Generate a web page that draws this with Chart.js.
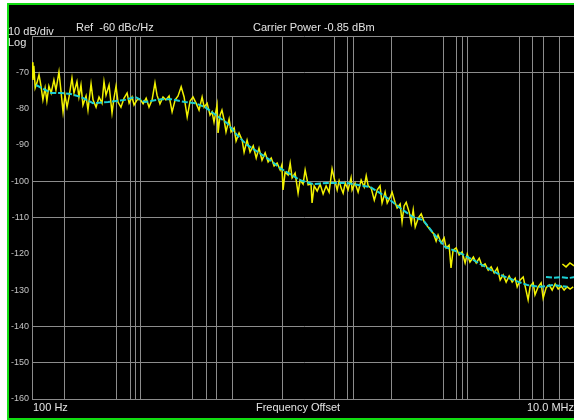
<!DOCTYPE html>
<html>
<head>
<meta charset="utf-8">
<script src="https://cdn.jsdelivr.net/npm/chart.js@4.4.0/dist/chart.umd.min.js"></script>
<style>
html, body { margin: 0; padding: 0; overflow: hidden; background: #fff; }
#wrap { width: 584px; height: 420px; }
</style>
</head>
<body>
<div id="wrap"><canvas id="noise-chart"></canvas></div>
<script>
// frequency offsets (Hz) where the analyser draws vertical grid lines
const gridFreqs = [100, 200, 600, 800, 900, 1000, 3000, 4000, 5000, 7000, 20000, 60000, 80000, 90000,
    200000, 600000, 800000, 900000, 1000000, 3000000, 4000000, 5000000, 7000000];
const yTicks = [-60, -70, -80, -90, -100, -110, -120, -130, -140, -150, -160];
const hiddenRows = [-80, -90, -120, -130];

// smoothed trace (cyan)
const cyanFreq = [109, 150, 185, 228, 282, 364, 500, 716, 885, 1095, 1535, 1897, 2552, 3155, 3900, 4616, 5353,
    6210, 7674, 9480, 11970, 15440, 19070, 22590, 29120, 38370, 51600, 78900, 97500, 128300, 158500, 195900,
    242000, 318600, 393700, 486600, 627600, 862500, 1136000, 1527000, 2010000, 2648000, 3562000, 4690000,
    6180000, 8320000];
const cyanDb = [-73.5, -75.7, -75.7, -76.0, -76.8, -78.5, -78.2, -77.6, -76.8, -78.2, -77.4, -77.4, -78.2, -78.5,
    -79.6, -81.2, -82.6, -84.0, -87.3, -90.0, -92.0, -94.2, -96.4, -97.7, -99.7, -100.8, -100.5, -100.5, -101.0,
    -101.6, -103.3, -105.2, -107.4, -109.9, -110.7, -114.3, -118.1, -119.8, -121.7, -123.9, -125.8, -127.2,
    -128.6, -129.1, -128.6, -129.1];
const cyanTailFreq = [5300000, 6200000, 7300000, 8500000, 9800000];
const cyanTailDb = [-126.4, -126.6, -126.4, -126.7, -126.4];

// raw trace (yellow)
const yellowFreq = [100, 102, 104, 107, 111, 116, 121, 126, 132, 137,
    143, 150, 159, 166, 177, 185, 193, 201, 210, 219,
    233, 243, 259, 270, 282, 294, 314, 327, 349, 364,
    388, 413, 440, 459, 479, 511, 544, 567, 592, 617,
    657, 702, 748, 781, 831, 867, 924, 984, 1050, 1120,
    1190, 1270, 1350, 1410, 1500, 1600, 1700, 1820, 1940, 2070,
    2200, 2350, 2500, 2670, 2840, 3020, 3220, 3430, 3660, 3820,
    4070, 4330, 4520, 4710, 5020, 5130, 5350, 5570, 5830, 6070,
    6480, 6760, 7210, 7510, 8000, 8540, 8900, 9480, 10100, 10800,
    11500, 12200, 13000, 13900, 14800, 15800, 16800, 17900, 19100, 19800,
    20300, 21200, 22600, 23600, 24600, 26200, 27900, 29100, 31000, 32400,
    34500, 36700, 37500, 39200, 41800, 44500, 47400, 50500, 53800, 57300,
    59800, 63800, 66500, 69400, 72400, 75600, 80400, 85600, 87500, 93200,
    99400, 106000, 113000, 118000, 123000, 131000, 140000, 149000, 158000, 165000,
    176000, 184000, 196000, 204000, 217000, 227000, 242000, 252000, 263000, 275000,
    293000, 306000, 319000, 333000, 356000, 378000, 402000, 429000, 456000, 487000,
    518000, 540000, 576000, 614000, 640000, 682000, 710000, 742000, 791000, 843000,
    898000, 957000, 1000000, 1060000, 1140000, 1210000, 1290000, 1370000, 1460000, 1560000,
    1660000, 1770000, 1890000, 2010000, 2140000, 2280000, 2430000, 2590000, 2760000, 2880000,
    3070000, 3270000, 3420000, 3630000, 3790000, 4040000, 4200000, 4490000, 4780000, 4990000,
    5320000, 5670000, 6040000, 6430000, 6860000, 7310000, 7780000, 8290000, 8830000, 9420000];
const yellowDb = [-67.2, -72.1, -68.2, -74.3, -72.9, -70.7, -73.8, -77.6, -74.3, -77.9,
    -73.8, -75.7, -72.1, -74.9, -69.9, -75.4, -80.9, -76.3, -79.6, -76.8,
    -71.6, -75.7, -72.6, -76.8, -73.5, -79.0, -76.5, -80.4, -73.2, -77.6,
    -79.6, -76.8, -78.5, -72.6, -76.3, -73.5, -81.2, -77.1, -73.8, -78.2,
    -79.6, -77.1, -75.7, -78.5, -76.8, -79.0, -77.6, -77.4, -78.7, -77.1,
    -79.6, -77.6, -72.9, -76.3, -78.7, -76.8, -77.6, -76.5, -80.9, -77.6,
    -76.5, -74.0, -76.8, -82.3, -77.9, -76.8, -78.5, -80.4, -76.8, -79.6,
    -78.5, -81.8, -80.9, -83.7, -79.0, -86.7, -81.8, -80.4, -83.1, -86.4,
    -82.9, -86.4, -85.3, -88.9, -86.7, -88.7, -92.0, -88.7, -92.0, -90.3,
    -93.6, -90.9, -94.2, -92.2, -94.7, -93.6, -95.8, -95.0, -96.9, -95.5,
    -102.4, -97.5, -98.3, -95.0, -99.1, -97.8, -103.3, -99.7, -100.8, -96.9,
    -101.0, -100.8, -106.0, -101.3, -102.7, -100.8, -103.5, -101.3, -103.0, -96.6,
    -99.1, -102.4, -99.9, -101.9, -103.3, -100.5, -102.4, -99.1, -102.4, -100.5,
    -103.0, -99.7, -101.6, -98.5, -101.3, -101.9, -105.2, -102.4, -101.3, -106.0,
    -103.0, -106.0, -104.4, -103.0, -105.8, -107.4, -106.3, -111.2, -106.8, -105.8,
    -108.5, -111.5, -107.9, -112.6, -110.1, -109.0, -111.2, -112.3, -113.4, -114.3,
    -116.5, -114.8, -117.0, -115.6, -118.4, -117.6, -123.9, -119.0, -118.4, -120.3,
    -119.5, -122.5, -120.1, -122.3, -120.9, -122.5, -121.2, -123.4, -122.8, -124.5,
    -123.6, -125.3, -123.9, -127.2, -125.8, -127.8, -126.1, -127.8, -126.7, -129.1,
    -127.2, -126.4, -129.1, -132.7, -128.9, -128.0, -131.3, -129.1, -128.0, -132.2,
    -129.3, -128.6, -130.0, -128.3, -129.7, -128.9, -130.0, -129.1, -129.7, -129.1];
const yellowTailFreq = [7500000, 8100000, 8800000, 9600000];
const yellowTailDb = [-122.8, -123.6, -122.5, -123.3];

const GRID = '#8c8c8c';
const TEXT = '#e4e4e4';
const FONT = '"Liberation Sans", Arial, sans-serif';

function toPoints(xs, ys) {
    return xs.map((x, i) => ({ x: x, y: ys[i] }));
}

// black screen, green bezel and the analyser annotations
const screenFrame = {
    id: 'screenFrame',
    beforeDraw(chart) {
        const { ctx, width, height } = chart;
        ctx.save();
        ctx.fillStyle = '#fff';
        ctx.fillRect(0, 0, width, height);
        ctx.fillStyle = '#000';
        ctx.fillRect(9, 5, width - 9, 413);
        ctx.fillStyle = '#11dd11';
        ctx.fillRect(7, 3, width - 7, 2);
        ctx.fillRect(7, 3, 2, 417);
        ctx.fillRect(7, 418, width - 7, 2);
        ctx.restore();
    },
    afterDraw(chart) {
        const ctx = chart.ctx;
        ctx.save();
        ctx.fillStyle = TEXT;
        ctx.font = '11px ' + FONT;
        ctx.textBaseline = 'middle';
        ctx.textAlign = 'left';
        ctx.fillText('10 dB/div', 8, 32);
        ctx.fillText('Log', 8, 43);
        ctx.fillText('Ref  -60 dBc/Hz', 76, 28);
        ctx.fillText('Carrier Power -0.85 dBm', 253, 28);
        ctx.fillText('100 Hz', 33, 408);
        ctx.textAlign = 'center';
        ctx.fillText('Frequency Offset', 298, 408);
        ctx.textAlign = 'right';
        ctx.fillText('10.0 MHz', 574, 408);
        ctx.restore();
    }
};

new Chart(document.getElementById('noise-chart'), {
    type: 'line',
    data: {
        datasets: [{
            label: 'Smoothed',
            data: toPoints(cyanFreq, cyanDb),
            borderColor: '#1ccfd4',
            borderWidth: 2,
            borderDash: [6, 2],
            order: 0
        }, {
            label: 'Smoothed (tail)',
            data: toPoints(cyanTailFreq, cyanTailDb),
            borderColor: '#1ccfd4',
            borderWidth: 2,
            borderDash: [6, 2],
            order: 0
        }, {
            label: 'Trace',
            data: toPoints(yellowFreq, yellowDb),
            borderColor: '#f2f200',
            borderWidth: 1.5,
            order: 1
        }, {
            label: 'Trace (tail)',
            data: toPoints(yellowTailFreq, yellowTailDb),
            borderColor: '#f2f200',
            borderWidth: 1.5,
            order: 1
        }]
    },
    options: {
        responsive: true,
        maintainAspectRatio: false,
        animation: false,
        layout: { padding: { left: 7, top: 36, right: 8, bottom: 21 } },
        elements: {
            point: { radius: 0 },
            line: { tension: 0 }
        },
        plugins: {
            legend: { display: false },
            tooltip: { enabled: false }
        },
        scales: {
            x: {
                type: 'logarithmic',
                min: 100,
                max: 10000000,
                afterBuildTicks: s => { s.ticks = gridFreqs.map(v => ({ value: v })); },
                afterFit: s => { s.height = 0; },
                ticks: { display: false },
                grid: { color: GRID, drawTicks: false },
                border: { color: GRID }
            },
            y: {
                min: -160,
                max: -60,
                afterBuildTicks: s => { s.ticks = yTicks.map(v => ({ value: v })); },
                afterFit: s => { s.width = 25; },
                ticks: {
                    color: '#c4c4c4',
                    font: { family: FONT, size: 9 },
                    padding: 3,
                    callback: v => (v === -60 ? '' : String(v))
                },
                grid: {
                    drawTicks: false,
                    color: c => (c.tick && hiddenRows.includes(c.tick.value) ? 'rgba(0,0,0,0)' : GRID)
                },
                border: { color: GRID }
            }
        }
    },
    plugins: [screenFrame]
});
</script>
</body>
</html>
